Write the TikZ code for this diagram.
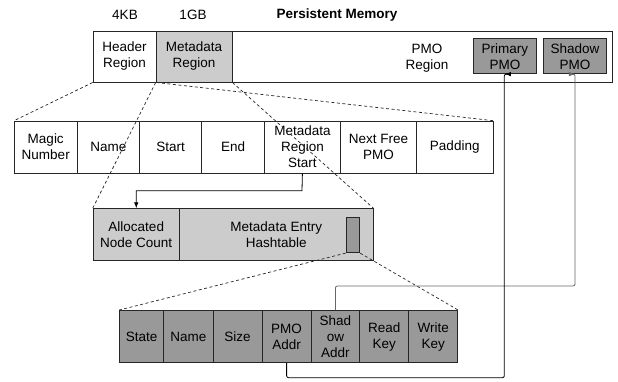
\documentclass[tikz,border=0pt]{standalone}
\usepackage{fontspec}
\setmainfont{Liberation Sans}
\usetikzlibrary{arrows.meta}
\definecolor{lgray}{HTML}{CCCCCC}
\definecolor{dgray}{HTML}{999999}
\begin{document}
\begin{tikzpicture}[x=1pt,y=-1pt,
  cell/.style={draw=black!85, line width=0.8pt, inner sep=0pt, align=center, anchor=north west,
    font=\fontsize{13.5}{16}\selectfont},
  lbl/.style={inner sep=0pt, align=center, font=\fontsize{13.5}{16}\selectfont},
  dsh/.style={draw=black!85, line width=0.7pt, dash pattern=on 3pt off 2.5pt},
  conn/.style={line width=0.8pt, rounded corners=2pt, -{Latex[length=6pt,width=4.5pt]}}]
\useasboundingbox (0,0) rectangle (618,381);
% top labels
\node[lbl] (kb) at (125,15) {4KB};
\node[lbl] (gb) at (193,15) {1GB};
\node[lbl, font=\fontsize{13.5}{16}\selectfont\bfseries] (pm) at (337,15) {Persistent Memory};
% top bar
\node[cell, minimum width=519pt, minimum height=51.2pt] (bar) at (92.7,30.5) {};
\node[cell, minimum width=63pt, minimum height=51.2pt] (hdr) at (92.7,30.5) {Header\\Region};
\node[cell, fill=lgray, minimum width=76pt, minimum height=51.2pt] (meta) at (155.7,30.5) {Metadata\\Region};
\node[lbl] (pmor) at (427,58) {PMO\\Region};
\node[cell, fill=dgray, minimum width=62.4pt, minimum height=35pt] (prim) at (473.3,38.3) {Primary\\PMO};
\node[cell, fill=dgray, minimum width=62.4pt, minimum height=35pt] (shad) at (543.3,38.3) {Shadow\\PMO};
% header row
\node[cell, minimum width=62.7pt, minimum height=52pt] (h1) at (14,120.7) {Magic\\Number};
\node[cell, minimum width=62.6pt, minimum height=52pt] (h2) at (76.7,120.7) {Name};
\node[cell, minimum width=62pt, minimum height=52pt] (h3) at (139.3,120.7) {Start};
\node[cell, minimum width=62.7pt, minimum height=52pt] (h4) at (201.3,120.7) {End};
\node[cell, minimum width=76pt, minimum height=52pt] (h5) at (264,120.7) {Metadata\\Region\\Start};
\node[cell, minimum width=76pt, minimum height=52pt] (h6) at (340,120.7) {Next Free\\PMO};
\node[cell, minimum width=76.7pt, minimum height=52pt] (h7) at (416,120.7) {Padding};
% metadata row
\node[cell, fill=lgray, minimum width=86.3pt, minimum height=51.7pt] (alloc) at (92.7,208.3) {Allocated\\Node Count};
\node[cell, fill=lgray, minimum width=193.7pt, minimum height=51.7pt] (hash) at (179,208.3) {Metadata Entry\\Hashtable};
\node[cell, fill=dgray, minimum width=13.6pt, minimum height=35.6pt] (hs) at (345.7,216.7) {};
% entry row
\node[cell, fill=dgray, minimum width=44pt, minimum height=52.3pt] (e1) at (119.3,310) {State};
\node[cell, fill=dgray, minimum width=49.4pt, minimum height=52.3pt] (e2) at (163.3,310) {Name};
\node[cell, fill=dgray, minimum width=49pt, minimum height=52.3pt] (e3) at (212.7,310) {Size};
\node[cell, fill=dgray, minimum width=49pt, minimum height=52.3pt] (e4) at (261.7,310) {PMO\\Addr};
\node[cell, fill=dgray, minimum width=48.6pt, minimum height=52.3pt] (e5) at (310.7,310) {Shad\\ow\\Addr};
\node[cell, fill=dgray, minimum width=49pt, minimum height=52.3pt] (e6) at (359.3,310) {Read\\Key};
\node[cell, fill=dgray, minimum width=49pt, minimum height=52.3pt] (e7) at (408.3,310) {Write\\Key};
% dashed zoom lines
\draw[dsh] (hdr.south west) -- (h1.north west);
\draw[dsh] (hdr.south east) -- (h7.north east);
\draw[dsh] (meta.south west) -- (alloc.north west);
\draw[dsh] (meta.south east) -- (hash.north east);
\draw[dsh] (hs.south west) -- (e1.north west);
\draw[dsh] (hs.south east) -- (e7.north east);
% connectors
\coordinate (c1) at (302,190.7);
\draw[conn, rounded corners=0pt] (h5.south) -- (c1) -| (alloc.north);
\draw[conn, draw=black!60] (e5.north) |- (575,286) -- (575,286) |- (shad.south) ;
\draw[conn] (e4.south) |- (504.3,377.7) -- (504.3,377.7) |- (prim.south);
\end{tikzpicture}
\end{document}
